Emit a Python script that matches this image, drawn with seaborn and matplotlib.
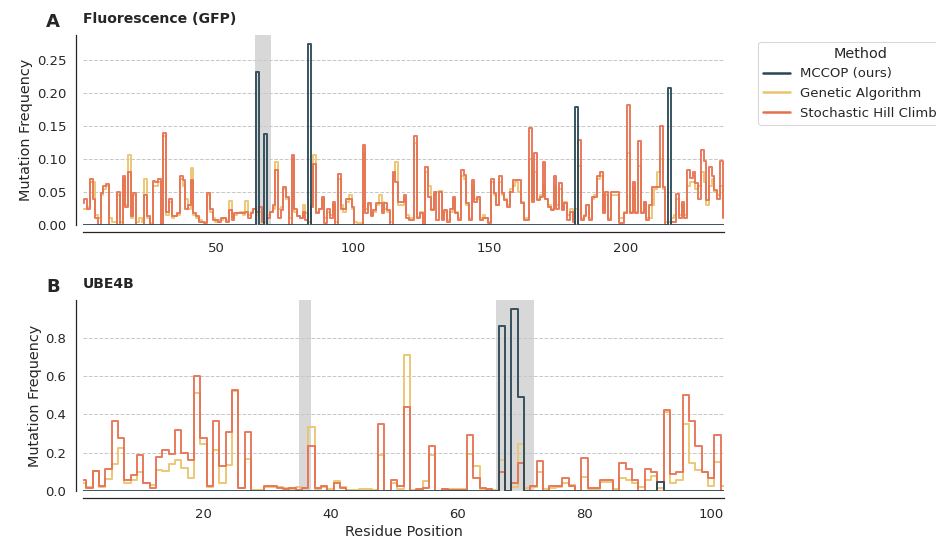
import numpy as np
import pandas as pd
import matplotlib
matplotlib.use("Agg")
import matplotlib.pyplot as plt
from matplotlib.lines import Line2D
import seaborn as sns

# ---------------- data ----------------
methods = ["MCCOP (ours)", "Genetic Algorithm", "Stochastic Hill Climbing"]
colors = ["#264653", "#e9c46a", "#e76f51"]

# Panel A: GFP (residues 1..236)
gfp_shc = [
    0.034, 0.040, 0.025, 0.070, 0.040, 0.010, 0.000, 0.048, 0.060, 0.063,
    0.000, 0.000, 0.000, 0.050, 0.000, 0.074, 0.028, 0.080, 0.013, 0.048,
    0.000, 0.000, 0.000, 0.045, 0.013, 0.000, 0.067, 0.065, 0.070, 0.000,
    0.140, 0.020, 0.040, 0.013, 0.013, 0.018, 0.074, 0.069, 0.025, 0.030,
    0.069, 0.018, 0.013, 0.005, 0.005, 0.003, 0.048, 0.025, 0.008, 0.008,
    0.005, 0.010, 0.010, 0.005, 0.023, 0.008, 0.018, 0.018, 0.018, 0.018,
    0.020, 0.010, 0.018, 0.025, 0.020, 0.028, 0.005, 0.000, 0.010, 0.020,
    0.030, 0.084, 0.010, 0.023, 0.058, 0.043, 0.000, 0.107, 0.025, 0.013,
    0.010, 0.020, 0.008, 0.000, 0.028, 0.092, 0.018, 0.025, 0.043, 0.003,
    0.025, 0.010, 0.035, 0.000, 0.077, 0.025, 0.025, 0.040, 0.040, 0.028,
    0.000, 0.000, 0.000, 0.122, 0.018, 0.033, 0.013, 0.023, 0.033, 0.033,
    0.018, 0.033, 0.023, 0.000, 0.081, 0.065, 0.035, 0.035, 0.045, 0.010,
    0.007, 0.007, 0.135, 0.010, 0.018, 0.000, 0.088, 0.043, 0.023, 0.050,
    0.008, 0.050, 0.008, 0.023, 0.005, 0.025, 0.043, 0.018, 0.007, 0.084,
    0.076, 0.033, 0.008, 0.069, 0.035, 0.043, 0.008, 0.010, 0.010, 0.003,
    0.070, 0.048, 0.030, 0.074, 0.048, 0.038, 0.028, 0.050, 0.069, 0.069,
    0.069, 0.033, 0.008, 0.008, 0.147, 0.035, 0.110, 0.038, 0.043, 0.095,
    0.040, 0.028, 0.023, 0.074, 0.025, 0.064, 0.023, 0.033, 0.008, 0.020,
    0.005, 0.000, 0.129, 0.008, 0.013, 0.030, 0.008, 0.043, 0.043, 0.074,
    0.081, 0.018, 0.050, 0.008, 0.050, 0.050, 0.050, 0.003, 0.003, 0.018,
    0.183, 0.018, 0.066, 0.018, 0.128, 0.018, 0.035, 0.008, 0.030, 0.058,
    0.058, 0.058, 0.150, 0.058, 0.000, 0.000, 0.005, 0.005, 0.047, 0.010,
    0.035, 0.010, 0.084, 0.071, 0.080, 0.064, 0.040, 0.114, 0.097, 0.038,
    0.088, 0.074, 0.053, 0.040, 0.098, 0.010,
]
gfp_ga = [
    0.025, 0.025, 0.028, 0.065, 0.065, 0.015, 0.010, 0.045, 0.055, 0.060,
    0.010, 0.005, 0.005, 0.045, 0.005, 0.070, 0.030, 0.107, 0.010, 0.045,
    0.005, 0.010, 0.005, 0.070, 0.010, 0.003, 0.060, 0.060, 0.065, 0.003,
    0.135, 0.015, 0.035, 0.010, 0.013, 0.015, 0.070, 0.060, 0.040, 0.025,
    0.087, 0.015, 0.010, 0.008, 0.005, 0.005, 0.045, 0.020, 0.010, 0.005,
    0.008, 0.008, 0.010, 0.008, 0.036, 0.012, 0.015, 0.018, 0.020, 0.015,
    0.036, 0.015, 0.020, 0.025, 0.015, 0.020, 0.010, 0.005, 0.015, 0.020,
    0.025, 0.096, 0.025, 0.028, 0.055, 0.040, 0.010, 0.100, 0.020, 0.013,
    0.010, 0.030, 0.018, 0.005, 0.030, 0.106, 0.020, 0.025, 0.040, 0.010,
    0.020, 0.015, 0.030, 0.005, 0.070, 0.030, 0.020, 0.035, 0.045, 0.025,
    0.005, 0.003, 0.003, 0.110, 0.025, 0.030, 0.015, 0.020, 0.030, 0.045,
    0.035, 0.025, 0.020, 0.005, 0.075, 0.095, 0.030, 0.030, 0.040, 0.015,
    0.010, 0.010, 0.125, 0.012, 0.020, 0.005, 0.080, 0.060, 0.025, 0.045,
    0.050, 0.052, 0.010, 0.020, 0.008, 0.020, 0.040, 0.020, 0.010, 0.075,
    0.070, 0.030, 0.010, 0.060, 0.040, 0.040, 0.010, 0.015, 0.010, 0.005,
    0.065, 0.045, 0.030, 0.065, 0.045, 0.040, 0.030, 0.055, 0.060, 0.065,
    0.050, 0.035, 0.010, 0.010, 0.100, 0.040, 0.080, 0.040, 0.045, 0.060,
    0.040, 0.030, 0.025, 0.060, 0.030, 0.055, 0.025, 0.035, 0.015, 0.025,
    0.010, 0.025, 0.090, 0.010, 0.015, 0.030, 0.010, 0.040, 0.045, 0.070,
    0.075, 0.020, 0.045, 0.010, 0.045, 0.045, 0.045, 0.010, 0.010, 0.020,
    0.110, 0.020, 0.060, 0.020, 0.090, 0.020, 0.035, 0.010, 0.010, 0.030,
    0.055, 0.080, 0.100, 0.055, 0.005, 0.005, 0.010, 0.015, 0.040, 0.015,
    0.030, 0.015, 0.060, 0.065, 0.065, 0.055, 0.060, 0.080, 0.065, 0.030,
    0.060, 0.070, 0.050, 0.045, 0.060, 0.015,
]
gfp_mccop_pos = [65, 68, 84, 182, 216]
gfp_mccop_val = [0.232, 0.138, 0.275, 0.180, 0.208]
gfp_highlight = [(64, 70)]

# Panel B: UBE4B (residues 1..102)
ube_shc = [
    0.055, 0.015, 0.105, 0.027, 0.115, 0.366, 0.278, 0.056, 0.086, 0.190,
    0.042, 0.015, 0.175, 0.216, 0.193, 0.320, 0.200, 0.162, 0.603, 0.278,
    0.026, 0.366, 0.132, 0.308, 0.530, 0.014, 0.308, 0.000, 0.000, 0.026,
    0.026, 0.018, 0.010, 0.015, 0.005, 0.015, 0.234, 0.015, 0.026, 0.000,
    0.044, 0.015, 0.000, 0.000, 0.000, 0.000, 0.000, 0.350, 0.000, 0.056,
    0.026, 0.440, 0.000, 0.008, 0.014, 0.234, 0.000, 0.012, 0.005, 0.005,
    0.005, 0.294, 0.070, 0.014, 0.008, 0.000, 0.100, 0.000, 0.044, 0.146,
    0.000, 0.026, 0.158, 0.000, 0.026, 0.026, 0.070, 0.026, 0.000, 0.172,
    0.014, 0.014, 0.056, 0.056, 0.000, 0.144, 0.114, 0.056, 0.000, 0.114,
    0.100, 0.000, 0.425, 0.088, 0.100, 0.500, 0.366, 0.237, 0.100, 0.070,
    0.294, 0.000,
]
ube_ga = [
    0.040, 0.020, 0.105, 0.020, 0.065, 0.140, 0.225, 0.040, 0.060, 0.100,
    0.040, 0.030, 0.110, 0.105, 0.140, 0.160, 0.120, 0.070, 0.510, 0.245,
    0.020, 0.215, 0.040, 0.135, 0.520, 0.015, 0.165, 0.005, 0.005, 0.020,
    0.020, 0.020, 0.015, 0.010, 0.020, 0.015, 0.335, 0.010, 0.020, 0.010,
    0.050, 0.020, 0.005, 0.005, 0.012, 0.010, 0.005, 0.190, 0.000, 0.040,
    0.010, 0.710, 0.005, 0.005, 0.050, 0.190, 0.000, 0.010, 0.008, 0.008,
    0.008, 0.195, 0.130, 0.010, 0.010, 0.005, 0.160, 0.000, 0.020, 0.245,
    0.015, 0.020, 0.100, 0.010, 0.015, 0.020, 0.040, 0.030, 0.000, 0.075,
    0.010, 0.010, 0.045, 0.045, 0.010, 0.070, 0.060, 0.040, 0.020, 0.060,
    0.080, 0.015, 0.410, 0.040, 0.060, 0.350, 0.145, 0.110, 0.100, 0.025,
    0.150, 0.025,
]
ube_mccop_pos = [67, 69, 70, 92]
ube_mccop_val = [0.860, 0.950, 0.490, 0.045]
ube_highlight = [(35, 37), (66, 72)]

panel_titles = ["Fluorescence (GFP)", "UBE4B"]
panel_letters = ["A", "B"]

# drawing order: GA first, then SHC, then MCCOP on top
draw_order = [1, 2, 0]


def build_frame(shc, ga, mccop_pos, mccop_val):
    n = len(shc)
    pos = np.arange(1, n + 1)
    mccop = np.zeros(n)
    for p, v in zip(mccop_pos, mccop_val):
        mccop[p - 1] = v
    frames = []
    for name, vals in zip(methods, [mccop, ga, shc]):
        frames.append(pd.DataFrame({"Residue Position": pos,
                                    "Mutation Frequency": vals,
                                    "Method": name}))
    return pd.concat(frames, ignore_index=True)


panels = [
    (build_frame(gfp_shc, gfp_ga, gfp_mccop_pos, gfp_mccop_val), gfp_highlight, max(gfp_mccop_val)),
    (build_frame(ube_shc, ube_ga, ube_mccop_pos, ube_mccop_val), ube_highlight, max(ube_mccop_val)),
]

# ---------------- plot ----------------
sns.set_theme(style="white", context="notebook", font_scale=1.2)
plt.rcParams["font.family"] = ["DejaVu Sans"]

fig = plt.figure(figsize=(13, 7.5), dpi=72)
W, H = 936.0, 540.0
axA = fig.add_axes([83 / W, 1 - 225 / H, 641 / W, 190 / H])
axB = fig.add_axes([83 / W, 1 - 491 / H, 641 / W, 191 / H])
axes = [axA, axB]

order_names = [methods[k] for k in draw_order]
order_colors = [colors[k] for k in draw_order]

for i, (ax, (df, spans, ymax)) in enumerate(zip(axes, panels)):
    for (a, b) in spans:
        ax.axvspan(a, b, color="gray", alpha=0.3, lw=0, zorder=0)
    sns.lineplot(data=df, x="Residue Position", y="Mutation Frequency",
                 hue="Method", hue_order=order_names, palette=order_colors,
                 drawstyle="steps-mid", linewidth=2.0, alpha=0.9,
                 errorbar=None, legend=False, ax=ax)
    n = df["Residue Position"].max()
    ax.set_xlim(1, n)
    ax.set_ylim(0, ymax * 1.05)
    ax.yaxis.grid(True, linestyle="--", color="#c8c8c8", linewidth=1.0)
    ax.xaxis.grid(False)
    ax.set_ylabel("Mutation Frequency")
    ax.set_title(panel_titles[i], loc="left", fontweight="bold", fontsize=14, pad=12)
    ax.text(-0.047, 1.04, panel_letters[i], transform=ax.transAxes,
            ha="center", va="baseline", fontsize=18, fontweight="bold",
            color="#262626")
    sns.despine(ax=ax, offset=7)

axA.set_xlabel("")
axB.set_xlabel("Residue Position")

handles = [Line2D([0], [0], color=c, lw=2.5) for c in colors]
axA.legend(handles, methods, title="Method", loc="upper left",
           bbox_to_anchor=(1.043, 1.0), frameon=True)

fig.savefig("out.png", dpi=72)
